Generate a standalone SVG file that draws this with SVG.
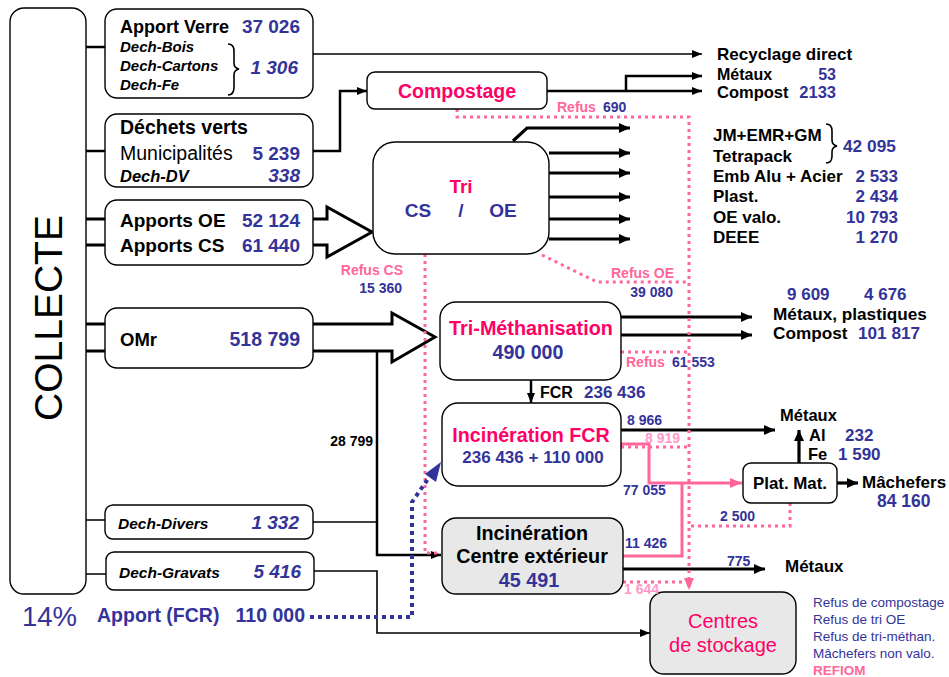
<svg xmlns="http://www.w3.org/2000/svg" width="949" height="677" viewBox="0 0 949 677">
<defs>
<style>
text{font-family:"Liberation Sans",Arial,sans-serif;}
.b{font-weight:bold;}
.bi{font-weight:bold;font-style:italic;}
.blue{fill:#333399;}
.mag{fill:#FF0066;}
.pk{fill:#FF6699;}
.lpk{fill:#FF99CC;}
.box{fill:#fff;stroke:#000;stroke-width:1.4;}
.grey{fill:#E8E8E8;stroke:#000;stroke-width:1.4;}
.ln{fill:none;stroke:#000;stroke-width:1.6;}
.ln2{fill:none;stroke:#000;stroke-width:2.5;}
.thick{fill:none;stroke:#000;stroke-width:3.2;}
.blk{fill:#fff;stroke:#000;stroke-width:3;stroke-linejoin:miter;}
.dot{fill:none;stroke:#FF6699;stroke-width:3;stroke-dasharray:3 4;}
.pline{fill:none;stroke:#FF6699;stroke-width:3;}
.bdot{fill:none;stroke:#333399;stroke-width:4;stroke-dasharray:4 4;}
</style>
<marker id="aT" markerUnits="userSpaceOnUse" markerWidth="10" markerHeight="8" refX="10" refY="4" orient="auto"><path d="M0,0 L10,4 L0,8 z" fill="#000"/></marker>
<marker id="aK" markerUnits="userSpaceOnUse" markerWidth="11" markerHeight="10" refX="11" refY="5" orient="auto"><path d="M0,0 L11,5 L0,10 z" fill="#000"/></marker>
<marker id="aP" markerUnits="userSpaceOnUse" markerWidth="12" markerHeight="10" refX="12" refY="5" orient="auto"><path d="M0,0 L12,5 L0,10 z" fill="#FF6699"/></marker>
</defs>

<g id="connectors">
<path class="ln2" d="M86,47 H105 M86,151 H105"/>
<path class="thick" d="M86,219 H105 M86,245 H105 M86,324 H105 M86,351 H105"/>
<path class="ln" d="M86,520 H105 M86,574 H106"/>
<path class="blk" d="M313,219 H327 V207 L372,232 L327,257 V245 H313"/>
<path class="blk" d="M313,324 H392 V313 L435,337 L392,362 V351 H313"/>
<path class="ln" d="M313,54 H702" marker-end="url(#aT)"/>
<path class="ln2" d="M313,151 H340 V91 H367" marker-end="url(#aT)"/>
<path class="ln2" d="M547,91 H702" marker-end="url(#aT)"/>
<path class="ln2" d="M626,91 V76 H702" marker-end="url(#aT)"/>
<path class="thick" d="M513,141 L527,128 H630" marker-end="url(#aK)"/>
<path class="thick" d="M549,153 H630" marker-end="url(#aK)"/>
<path class="thick" d="M549,173 H630" marker-end="url(#aK)"/>
<path class="thick" d="M549,197 H630" marker-end="url(#aK)"/>
<path class="thick" d="M549,219 H630" marker-end="url(#aK)"/>
<path class="thick" d="M549,239 H630" marker-end="url(#aK)"/>
<path class="thick" d="M621,317 H752" marker-end="url(#aK)"/>
<path class="thick" d="M621,335 H752" marker-end="url(#aK)"/>
<path class="ln2" d="M531,380 V403" marker-end="url(#aT)"/>
<path class="thick" d="M621,430 H775" marker-end="url(#aK)"/>
<path class="pline" d="M621,444 H649 V483 H742" marker-end="url(#aP)"/>
<path class="pline" d="M623,556 H682 V483"/>
<path class="thick" d="M799,463 V430" marker-end="url(#aK)"/>
<path class="thick" d="M837,483 H858" marker-end="url(#aK)"/>
<path class="thick" d="M623,569 H765" marker-end="url(#aK)"/>
<path class="ln2" d="M377,351 V555 H441" marker-end="url(#aT)"/>
<path class="ln" d="M313,522 H377"/>
<path class="ln" d="M314,571 H377 V633 H650" marker-end="url(#aT)"/>
<path class="dot" d="M457,109 V117 H689 V590" marker-end="url(#aP)"/>
<path class="dot" d="M425,254 V553 H437"/>
<path class="dot" d="M542,255 L597,282 H689"/>
<path class="dot" d="M621,352 H689"/>
<path class="dot" d="M621,447 H689"/>
<path class="dot" d="M790,503 V526 H689"/>
<path class="dot" d="M623,582 H689"/>
<path class="bdot" d="M310,617 H412 V502 L430,476"/>
<path d="M441,462 L425,474 L436,482 z" fill="#333399"/>
</g>

<g id="collecte">
<rect class="box" x="10" y="8" width="76" height="586" rx="14"/>
<text x="0" y="0" font-size="39" transform="translate(62,318) rotate(-90)" text-anchor="middle">COLLECTE</text>
</g>

<g id="apport-verre">
<rect class="box" x="105" y="9" width="208" height="89" rx="12"/>
<text x="120" y="33" font-size="18" class="b">Apport Verre</text>
<text x="300" y="33" font-size="19" class="b blue" text-anchor="end">37 026</text>
<text x="120" y="52" font-size="15" class="bi">Dech-Bois</text>
<text x="120" y="71" font-size="15" class="bi">Dech-Cartons</text>
<text x="120" y="90" font-size="15" class="bi">Dech-Fe</text>
<path class="ln" stroke-width="1.2" d="M228,44 Q234,44 234,51 V63 Q234,68 239,69 Q234,70 234,75 V87 Q234,95 228,95"/>
<text x="298" y="74" font-size="19" class="bi blue" text-anchor="end">1 306</text>
</g>

<g id="dechets-verts">
<rect class="box" x="105" y="114" width="208" height="73" rx="12"/>
<text x="120" y="134" font-size="19.5" class="b">Déchets verts</text>
<text x="120" y="160" font-size="19.5">Municipalités</text>
<text x="300" y="160" font-size="19" class="b blue" text-anchor="end">5 239</text>
<text x="120" y="182" font-size="16.5" class="bi">Dech-DV</text>
<text x="300" y="182" font-size="19" class="bi blue" text-anchor="end">338</text>
</g>

<g id="apports">
<rect class="box" x="105" y="200" width="208" height="65" rx="12"/>
<text x="120" y="227" font-size="19" class="b">Apports OE</text>
<text x="300" y="227" font-size="19" class="b blue" text-anchor="end">52 124</text>
<text x="120" y="252" font-size="19" class="b">Apports CS</text>
<text x="300" y="252" font-size="19" class="b blue" text-anchor="end">61 440</text>
</g>

<g id="omr">
<rect class="box" x="105" y="308" width="208" height="60" rx="12"/>
<text x="120" y="346" font-size="18.5" class="b">OMr</text>
<text x="300" y="346" font-size="19.5" class="b blue" text-anchor="end">518 799</text>
</g>

<g id="dech-divers">
<rect class="box" x="105" y="505" width="208" height="34" rx="8"/>
<text x="118" y="529" font-size="15.5" class="bi">Dech-Divers</text>
<text x="299" y="529" font-size="19" class="bi blue" text-anchor="end">1 332</text>
</g>

<g id="dech-gravats">
<rect class="box" x="106" y="552" width="208" height="38" rx="8"/>
<text x="119" y="578" font-size="15.5" class="bi">Dech-Gravats</text>
<text x="301" y="578" font-size="19" class="bi blue" text-anchor="end">5 416</text>
</g>

<g id="apport-fcr">
<text x="22" y="626" font-size="27.5" class="blue">14%</text>
<text x="97" y="622" font-size="19.5" class="b blue">Apport (FCR)</text>
<text x="305" y="622" font-size="19.5" class="b blue" text-anchor="end">110 000</text>
</g>

<g id="compostage">
<rect class="box" x="367" y="72" width="180" height="37" rx="8"/>
<text x="457" y="98" font-size="19.5" class="b mag" text-anchor="middle">Compostage</text>
</g>

<g id="tri">
<rect class="box" x="373" y="142" width="176" height="112" rx="22"/>
<text x="461" y="193" font-size="19" class="b mag" text-anchor="middle">Tri</text>
<text x="418" y="217" font-size="19" class="b blue" text-anchor="middle">CS</text>
<text x="461" y="217" font-size="19" class="b blue" text-anchor="middle">/</text>
<text x="503" y="217" font-size="19" class="b blue" text-anchor="middle">OE</text>
</g>

<g id="tri-methanisation">
<rect class="box" x="440" y="302" width="181" height="78" rx="16"/>
<text x="531" y="335" font-size="19.8" class="b mag" text-anchor="middle">Tri-Méthanisation</text>
<text x="528" y="359" font-size="19.6" class="b blue" text-anchor="middle">490 000</text>
</g>

<g id="incineration-fcr">
<rect class="box" x="442" y="403" width="179" height="83" rx="16"/>
<text x="531" y="442" font-size="19.7" class="b mag" text-anchor="middle">Incinération FCR</text>
<text x="533" y="463" font-size="17" class="b blue" text-anchor="middle">236 436 + 110 000</text>
</g>

<g id="incineration-ext">
<rect class="grey" x="442" y="518" width="181" height="76" rx="14"/>
<text x="532" y="540" font-size="19.8" class="b" text-anchor="middle">Incinération</text>
<text x="532" y="563" font-size="19.8" class="b" text-anchor="middle">Centre extérieur</text>
<text x="529" y="587" font-size="19.8" class="b blue" text-anchor="middle">45 491</text>
</g>

<g id="plat-mat">
<rect class="box" x="743" y="463" width="94" height="40" rx="8"/>
<text x="790" y="489" font-size="16.9" class="b" text-anchor="middle">Plat. Mat.</text>
</g>

<g id="centres-stockage">
<rect class="grey" x="650" y="592" width="146" height="82" rx="14"/>
<text x="723" y="628" font-size="20" class="mag" text-anchor="middle">Centres</text>
<text x="723" y="652" font-size="20" class="mag" text-anchor="middle">de stockage</text>
</g>

<g id="outputs">
<text x="717" y="60" font-size="17" class="b">Recyclage direct</text>
<text x="717" y="80" font-size="16" class="b">Métaux</text>
<text x="836" y="80" font-size="16" class="b blue" text-anchor="end">53</text>
<text x="717" y="98" font-size="16.5" class="b">Compost</text>
<text x="836" y="98" font-size="16.5" class="b blue" text-anchor="end">2133</text>
<text x="557" y="112" font-size="14" class="b pk">Refus</text>
<text x="603" y="112" font-size="14" class="b blue">690</text>
<text x="713" y="141" font-size="17" class="b">JM+EMR+GM</text>
<text x="713" y="162" font-size="17" class="b">Tetrapack</text>
<path class="ln" stroke-width="1.2" d="M826,124 Q832,124 832,131 V140 Q832,145 837,146 Q832,147 832,152 V156 Q832,163 826,163"/>
<text x="843" y="152" font-size="17.3" class="b blue">42 095</text>
<text x="713" y="182" font-size="17" class="b">Emb Alu + Acier</text>
<text x="898" y="182" font-size="17" class="b blue" text-anchor="end">2 533</text>
<text x="713" y="202" font-size="17" class="b">Plast.</text>
<text x="898" y="202" font-size="17" class="b blue" text-anchor="end">2 434</text>
<text x="713" y="223" font-size="17" class="b">OE valo.</text>
<text x="898" y="223" font-size="17" class="b blue" text-anchor="end">10 793</text>
<text x="713" y="243" font-size="17" class="b">DEEE</text>
<text x="898" y="243" font-size="17" class="b blue" text-anchor="end">1 270</text>
<text x="403" y="275" font-size="14" class="b pk" text-anchor="end">Refus CS</text>
<text x="402" y="293" font-size="14" class="b blue" text-anchor="end">15 360</text>
<text x="611" y="278" font-size="14" class="b pk">Refus OE</text>
<text x="673" y="297" font-size="14" class="b blue" text-anchor="end">39 080</text>
<text x="787" y="300" font-size="17" class="b blue">9 609</text>
<text x="864" y="300" font-size="17" class="b blue">4 676</text>
<text x="773" y="320" font-size="17.2" class="b">Métaux, plastiques</text>
<text x="773" y="339" font-size="17.2" class="b">Compost</text>
<text x="858" y="339" font-size="17.2" class="b blue">101 817</text>
<text x="626" y="367" font-size="14" class="b pk">Refus</text>
<text x="672" y="367" font-size="14" class="b blue">61 553</text>
<text x="540" y="398" font-size="16" class="b">FCR</text>
<text x="584" y="398" font-size="17" class="b blue">236 436</text>
<text x="373" y="446" font-size="14" class="b" text-anchor="end">28 799</text>
<text x="627" y="425" font-size="14" class="b blue">8 966</text>
<text x="645" y="443" font-size="14" class="b lpk">8 919</text>
<text x="623" y="495" font-size="14" class="b blue">77 055</text>
<text x="625" y="548" font-size="14" class="b blue">11 426</text>
<text x="720" y="521" font-size="14" class="b blue">2 500</text>
<text x="727" y="566" font-size="14" class="b blue">775</text>
<text x="624" y="594" font-size="14" class="b lpk">1 644</text>
<text x="780" y="421" font-size="16.5" class="b">Métaux</text>
<text x="809" y="441" font-size="16.5" class="b">Al</text>
<text x="845" y="441" font-size="17" class="b blue">232</text>
<text x="808" y="460" font-size="16.5" class="b">Fe</text>
<text x="838" y="460" font-size="17" class="b blue">1 590</text>
<text x="862" y="488" font-size="17" class="b">Mâchefers</text>
<text x="877" y="507" font-size="17.5" class="b blue">84 160</text>
<text x="785" y="572" font-size="17" class="b">Métaux</text>
<text x="813" y="607" font-size="13.5" class="blue">Refus de compostage</text>
<text x="813" y="624" font-size="13.5" class="blue">Refus de tri OE</text>
<text x="813" y="641" font-size="13.5" class="blue">Refus de tri-méthan.</text>
<text x="813" y="658" font-size="13.5" class="blue">Mâchefers non valo.</text>
<text x="813" y="675" font-size="13.5" class="b pk">REFIOM</text>
</g>
</svg>
